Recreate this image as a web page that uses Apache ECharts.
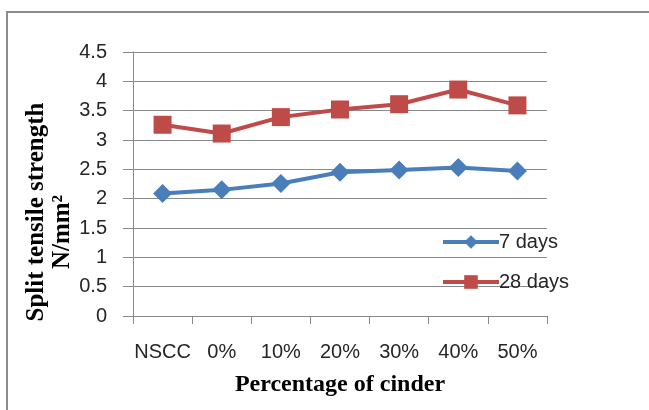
<!DOCTYPE html>
<html>
<head>
<meta charset="utf-8">
<script src="https://cdn.jsdelivr.net/npm/echarts@6/dist/echarts.min.js"></script>
<style>
  html, body { margin: 0; padding: 0; background: #ffffff; }
  #chart { width: 649px; height: 410px; }
</style>
</head>
<body>
<div id="chart"></div>
<script>
// Cinder replacement levels
const categories = ['NSCC', '0%', '10%', '20%', '30%', '40%', '50%'];
// Split tensile strength (N/mm²)
const days7 = [2.09, 2.15, 2.26, 2.45, 2.49, 2.53, 2.47];
const days28 = [3.26, 3.11, 3.39, 3.52, 3.61, 3.86, 3.59];
const seriesNames = ['7 days', '28 days'];

const gridColor = '#8a8a8a';
const chart = echarts.init(document.getElementById('chart'), null, { renderer: 'canvas' });

chart.setOption({
  animation: false,
  backgroundColor: '#ffffff',
  grid: { left: 133, right: 102, top: 52, bottom: 94, containLabel: false },
  xAxis: {
    type: 'category',
    data: categories,
    boundaryGap: true,
    axisLine: { lineStyle: { color: gridColor, width: 1 } },
    axisTick: { show: true, interval: 0, length: 8, lineStyle: { color: gridColor } },
    axisLabel: {
      interval: 0,
      hideOverlap: false,
      margin: 26,
      color: '#262626',
      fontFamily: 'Liberation Sans',
      fontSize: 20
    },
    name: 'Percentage of cinder',
    nameLocation: 'middle',
    nameGap: 57,
    nameTextStyle: {
      fontFamily: 'Liberation Serif',
      fontWeight: 'bold',
      fontSize: 24,
      color: '#000000'
    }
  },
  yAxis: {
    type: 'value',
    min: 0,
    max: 4.5,
    interval: 0.5,
    axisLine: { show: true, lineStyle: { color: gridColor, width: 1 } },
    axisTick: { show: true, length: 10, lineStyle: { color: gridColor } },
    splitLine: { show: true, lineStyle: { color: gridColor, width: 1 } },
    axisLabel: {
      margin: 26,
      color: '#262626',
      fontFamily: 'Liberation Sans',
      fontSize: 20
    }
  },
  legend: {
    orient: 'vertical',
    left: 436,
    top: 227,
    itemWidth: 56,
    itemHeight: 17,
    itemGap: 20,
    lineStyle: { width: 4 },
    textStyle: {
      fontFamily: 'Liberation Sans',
      fontSize: 20,
      color: '#262626',
      padding: [0, 0, 0, -5]
    },
    data: seriesNames
  },
  series: [
    {
      name: seriesNames[0],
      type: 'line',
      data: days7,
      symbol: 'diamond',
      symbolSize: 19,
      lineStyle: { color: '#4a7ebb', width: 4 },
      itemStyle: { color: '#4a7ebb' }
    },
    {
      name: seriesNames[1],
      type: 'line',
      data: days28,
      symbol: 'rect',
      symbolSize: 18,
      lineStyle: { color: '#be4b48', width: 4 },
      itemStyle: { color: '#be4b48' }
    }
  ],
  graphic: [
    {
      type: 'rect',
      shape: { x: 7, y: 12, width: 700, height: 450 },
      style: { fill: 'none', stroke: '#8c8c8c', lineWidth: 2 },
      silent: true
    },
    {
      type: 'text',
      x: 37,
      y: 212,
      rotation: Math.PI / 2,
      style: {
        text: 'Split tensile strength',
        fontFamily: 'Liberation Serif',
        fontWeight: 'bold',
        fontSize: 25,
        fill: '#000000',
        align: 'center',
        verticalAlign: 'middle'
      }
    },
    {
      type: 'text',
      x: 63,
      y: 232,
      rotation: Math.PI / 2,
      style: {
        text: 'N/mm²',
        fontFamily: 'Liberation Serif',
        fontWeight: 'bold',
        fontSize: 25,
        fill: '#000000',
        align: 'center',
        verticalAlign: 'middle'
      }
    }
  ]
});
</script>
</body>
</html>
